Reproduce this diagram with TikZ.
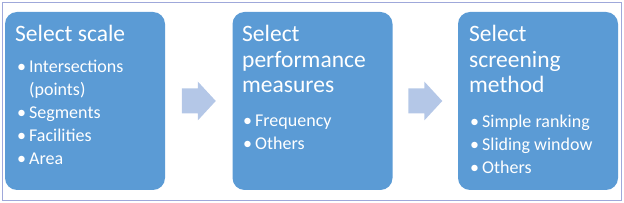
\documentclass[tikz,border=0pt]{standalone}
\usepackage{fontspec}
\setmainfont{Carlito}
\usetikzlibrary{positioning,calc}

\definecolor{boxblue}{HTML}{5B9BD5}
\definecolor{arrowblue}{HTML}{B4C7E7}
\definecolor{framecol}{HTML}{9FA8DA}

\begin{document}
\begin{tikzpicture}[
  x=1pt,y=1pt,
  stepbox/.style={fill=boxblue,draw=none,rounded corners=12pt,
    minimum width=160pt,minimum height=178pt,inner sep=0pt},
  head/.style={anchor=base west,inner sep=0pt,text=white,
    font=\fontsize{23.5}{25.5}\selectfont},
  items/.style={anchor=base west,inner sep=0pt,text=white,
    font=\fontsize{18}{22.8}\selectfont},
  flow/.style={fill=arrowblue,draw=none},
]
\useasboundingbox (0,0) rectangle (624,203);
\draw[framecol,line width=0.8pt] (2.5,2.5) rectangle (621.5,200.5);

% three steps
\node[stepbox] (scale) at (85,102) {};
\node[stepbox] (perf) at (312.5,102) {};
\node[stepbox] (screen) at (538,102) {};

% step texts
\node[head] (scaleT) at (15,161) {Select scale};
\node[items] (scaleL) at (17,130) {\begin{tabular}[t]{@{}l@{\,}l@{}}
  \textbullet & Intersections\\
  & (points)\\
  \textbullet & Segments\\
  \textbullet & Facilities\\
  \textbullet & Area
\end{tabular}};

\node[head] (perfT) at (242,161) {\begin{tabular}[t]{@{}l@{}}
  Select\\performance\\measures
\end{tabular}};
\node[items] (perfL) at (243,76) {\begin{tabular}[t]{@{}l@{\,}l@{}}
  \textbullet & Frequency\\
  \textbullet & Others
\end{tabular}};

\node[head] (screenT) at (469,161) {\begin{tabular}[t]{@{}l@{}}
  Select\\screening\\method
\end{tabular}};
\node[items] (screenL) at (470,75) {\begin{tabular}[t]{@{}l@{\,}l@{}}
  \textbullet & Simple ranking\\
  \textbullet & Sliding window\\
  \textbullet & Others
\end{tabular}};

% block arrows
\foreach \a/\b in {scale/perf,perf/screen}{
  \path ($(\a.east)!0.5!(\b.west)$) coordinate (mid);
  \fill[flow] ([xshift=-17pt,yshift=-12.5pt]mid) -- ++(16,0) -- ++(0,-7)
    -- ++(18,19.5) -- ++(-18,19.5) -- ++(0,-7) -- ++(-16,0) -- cycle;
}
\end{tikzpicture}
\end{document}
